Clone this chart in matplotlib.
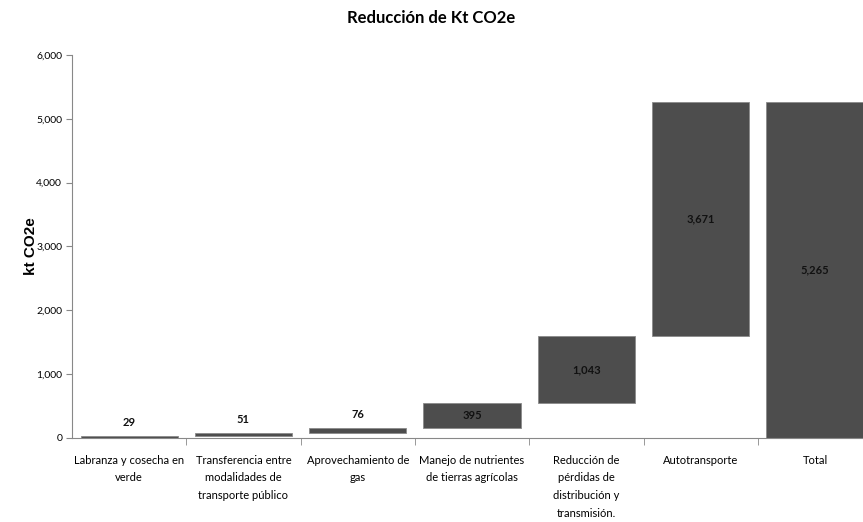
import numpy as np
import matplotlib.pyplot as plt
from matplotlib.ticker import FuncFormatter

categorias = ["Labranza y cosecha en\nverde",
              "Transferencia entre\nmodalidades de\ntransporte público",
              "Aprovechamiento de\ngas",
              "Manejo de nutrientes\nde tierras agrícolas",
              "Reducción de\npérdidas de\ndistribución y\ntransmisión.",
              "Autotransporte",
              "Total"]
reducciones = [29, 51, 76, 395, 1043, 3671]

plt.rcParams['font.family'] = ['Lato', 'DejaVu Sans']

total = sum(reducciones)
valores = np.array(reducciones + [total])
bases = np.concatenate([[0], np.cumsum(reducciones)[:-1], [0]])

fig = plt.figure(figsize=(8.63, 5.22), dpi=100)
ax = fig.add_axes([0.0834, 0.161, 0.9166, 0.7336])

x = np.arange(len(valores))
ax.bar(x, valores, bottom=bases, width=0.85, color='#4d4d4d',
       edgecolor='#8a8a8a', linewidth=0.6)

for xi, v, b in zip(x, valores, bases):
    txt = f"{v:,}"
    if v < 200:
        ax.annotate(txt, (xi, b + v), xytext=(0, 6), textcoords='offset points',
                    ha='center', va='bottom', fontsize=8, fontweight='bold', color='#111111')
    else:
        ax.text(xi, b + v / 2, txt, ha='center', va='center',
                fontsize=8, fontweight='bold', color='#111111')

ax.set_ylim(0, 6000)
ax.set_xlim(-0.5, 6.42)
ax.set_yticks(np.arange(0, 6001, 1000))
ax.yaxis.set_major_formatter(FuncFormatter(lambda v, p: f"{int(v):,}"))
ax.set_xticks(x)
ax.set_xticklabels(categorias, fontsize=8, linespacing=1.75)
ax.set_xticks(np.arange(0.5, 6.5, 1), minor=True)
ax.tick_params(axis='x', which='major', length=0, pad=12)
ax.tick_params(axis='x', which='minor', length=5, color='#888888', direction='out')
ax.tick_params(axis='y', labelsize=7.5, length=4, color='#888888', pad=3)

for s in ['top', 'right']:
    ax.spines[s].set_visible(False)
for s in ['left', 'bottom']:
    ax.spines[s].set_color('#888888')

ax.set_ylabel("kt CO2e", fontsize=11, fontweight='bold',
              family=['Liberation Sans', 'DejaVu Sans'])
ax.yaxis.set_label_coords(-0.043, 0.5)
fig.text(0.5, 0.965, "Reducción de Kt CO2e", ha='center', va='center',
         fontsize=12, fontweight='bold')

fig.savefig('out.png', dpi=100)
